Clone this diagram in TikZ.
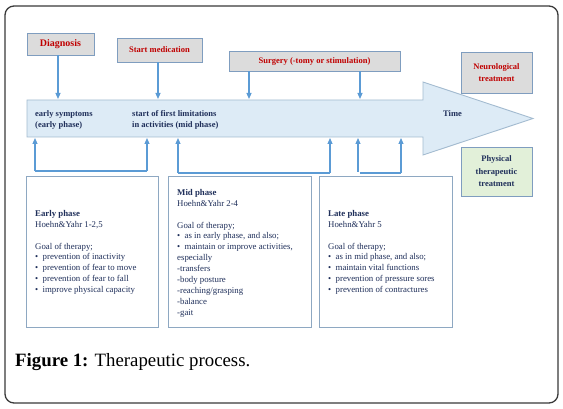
\documentclass[tikz,border=0pt]{standalone}
\usepackage{fontspec}
\setmainfont{Liberation Serif}
\usetikzlibrary{arrows.meta}
\definecolor{navy}{HTML}{1F2F5A}
\definecolor{dred}{HTML}{C00000}
\definecolor{arrblue}{HTML}{5B9BD5}
\definecolor{boxedge}{HTML}{7F9DBF}
\definecolor{lowedge}{HTML}{8EA8C2}
\definecolor{topfill}{HTML}{DCDCDC}
\definecolor{greenfill}{HTML}{E2F0D9}
\definecolor{bigfill}{HTML}{DDEBF6}
\definecolor{bigedge}{HTML}{A3BBD0}
\definecolor{frame}{HTML}{3A3A3A}
\tikzset{
  topbox/.style={draw=boxedge, fill=topfill, line width=0.9pt, inner sep=0pt},
  lowbox/.style={draw=lowedge, line width=0.9pt, inner sep=0pt},
  redlbl/.style={text=dred, font=\fontsize{8.5}{12}\selectfont\bfseries, align=center},
  boxtext/.style={text=navy, font=\fontsize{8.8}{10.9}\selectfont, align=left, inner sep=0pt, anchor=north west},
  arrtext/.style={text=navy, font=\fontsize{8.5}{11}\selectfont\bfseries, align=left, inner sep=0pt},
  conn/.style={draw=arrblue, line width=1.1pt},
  arr/.style={conn, -{Triangle[length=6pt,width=5pt]}}
}
\newcommand{\bul}{\makebox[7.5pt][l]{\textbullet}}
\begin{document}
\begin{tikzpicture}[x=1pt,y=-1pt]
\useasboundingbox (0,0) rectangle (563,409);
\fill[white] (0,0) rectangle (563,409);
% frame
\draw[frame, line width=1.3pt, rounded corners=9pt] (5,6) rectangle (558,403);

% big arrow
\draw[fill=bigfill, draw=bigedge, line width=0.9pt]
  (27,100) -- (423,100) -- (423,82) -- (533,118.5) -- (423,155) -- (423,137) -- (27,137) -- cycle;
\node[arrtext, anchor=north west] (es) at (35,110) {early symptoms\\(early phase)};
\node[arrtext, anchor=north west] (sl) at (132,110) {start of first limitations\\in activities (mid phase)};
\node[arrtext, anchor=west] (time) at (443,114) {Time};

% top boxes
\node[topbox, minimum width=67pt, minimum height=22pt] (dia) at (60.5,44) {};
\node[redlbl, font=\fontsize{10}{12}\selectfont\bfseries] (dial) at (dia) {Diagnosis};
\node[topbox, minimum width=85pt, minimum height=24pt] (med) at (159.5,50) {};
\node[redlbl] (medl) at (med) {Start medication};
\node[topbox, minimum width=171pt, minimum height=20pt] (sur) at (314.5,61) {};
\node[redlbl] (surl) at (sur) {Surgery (-tomy or stimulation)};
\node[topbox, minimum width=71pt, minimum height=41pt] (neu) at (496.5,72.5) {};
\node[redlbl] (neul) at (neu) {Neurological\\treatment};
\node[topbox, fill=greenfill, minimum width=71pt, minimum height=49pt] (phy) at (496.5,171.5) {};
\node[redlbl, text=navy, font=\fontsize{8.5}{12.5}\selectfont\bfseries] (phyl) at (phy) {Physical\\therapeutic\\treatment};

% down arrows
\coordinate (t1) at (58,99);
\coordinate (t2) at (158,99);
\coordinate (t3) at (249,99);
\coordinate (t4) at (360,99);
\draw[arr] (dia.south -| t1) -- (t1);
\draw[arr] (med.south -| t2) -- (t2);
\draw[arr] (sur.south -| t3) -- (t3);
\draw[arr] (sur.south -| t4) -- (t4);

% lower boxes
\node[lowbox, minimum width=132pt, minimum height=151pt] (early) at (92,251.5) {};
\node[lowbox, minimum width=143pt, minimum height=151pt] (mid) at (239.5,251.5) {};
\node[lowbox, minimum width=133pt, minimum height=151pt] (late) at (385.5,251.5) {};

\node[boxtext] (earlyt) at (35,210) {\textbf{Early phase}\\Hoehn\&Yahr 1-2,5\\[10.9pt]Goal of therapy;\\
\bul prevention of inactivity\\\bul prevention of fear to move\\\bul prevention of fear to fall\\\bul improve physical capacity};
\node[boxtext] (midt) at (177,189) {\textbf{Mid phase}\\Hoehn\&Yahr 2-4\\[10.9pt]Goal of therapy;\\
\bul as in early phase, and also;\\\bul maintain or improve activities,\\especially\\-transfers\\-body posture\\-reaching/grasping\\-balance\\-gait};
\node[boxtext] (latet) at (328,210) {\textbf{Late phase}\\Hoehn\&Yahr 5\\[10.9pt]Goal of therapy;\\
\bul as in mid phase, and also;\\\bul maintain vital functions\\\bul prevention of pressure sores\\\bul prevention of contractures};

% up arrows
\coordinate (e1) at (35,171);
\coordinate (e2) at (147,171);
\coordinate (m1) at (178,173);
\coordinate (m2) at (330,173);
\coordinate (l1) at (358,172);
\coordinate (l2) at (401,173);
\coordinate (l0) at (360,173);
\draw[conn] (e1) -- (e2);
\draw[arr] (e1) -- (e1 |- 0,138);
\draw[arr] (e2) -- (e2 |- 0,138);
\draw[conn] (m1) -- (m2);
\draw[arr] (m1) -- (m1 |- 0,138);
\draw[arr] (m2) -- (m2 |- 0,138);
\draw[conn] (l0) -- (l2);
\draw[arr] (l1) -- (l1 |- 0,138);
\draw[arr] (l2) -- (l2 |- 0,138);

% caption
\node[anchor=base west, inner sep=0pt, font=\fontsize{18.8}{21}\selectfont] (cap) at (15,366) {\textbf{Figure 1:} Therapeutic process.};
\end{tikzpicture}
\end{document}
